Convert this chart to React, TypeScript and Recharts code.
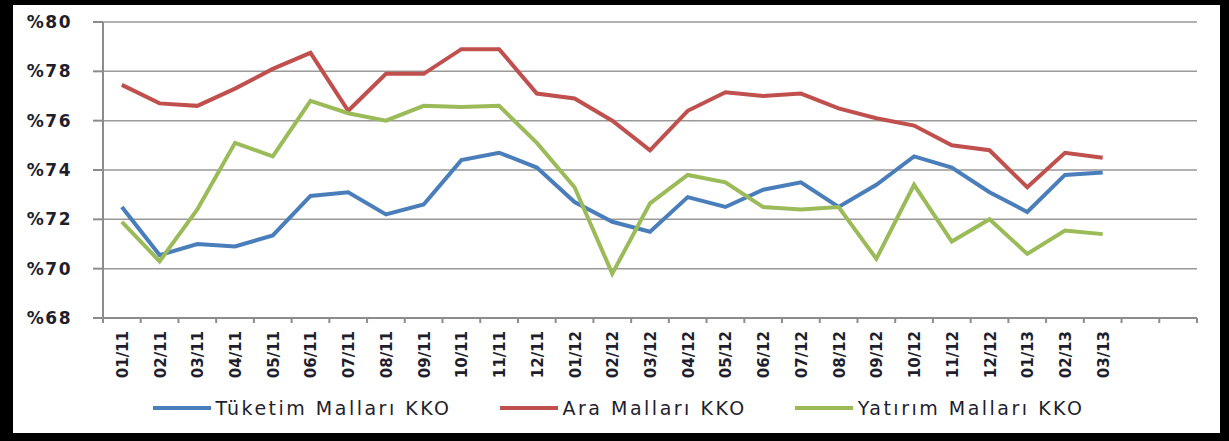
import { LineChart, Line, XAxis, YAxis, CartesianGrid, Legend } from 'recharts'

// months on the x axis, plus two empty slots Excel left at the right end
const months = [
  '01/11', '02/11', '03/11', '04/11', '05/11', '06/11', '07/11', '08/11', '09/11', '10/11', '11/11', '12/11',
  '01/12', '02/12', '03/12', '04/12', '05/12', '06/12', '07/12', '08/12', '09/12', '10/12', '11/12', '12/12',
  '01/13', '02/13', '03/13',
]
const emptySlots = ['', '']

const tuketim = [
  72.5, 70.55, 71.0, 70.9, 71.35, 72.95, 73.1, 72.2, 72.6, 74.4, 74.7, 74.1,
  72.7, 71.9, 71.5, 72.9, 72.5, 73.2, 73.5, 72.5, 73.4, 74.55, 74.1, 73.1,
  72.3, 73.8, 73.9,
]
const ara = [
  77.45, 76.7, 76.6, 77.3, 78.1, 78.75, 76.4, 77.9, 77.9, 78.9, 78.9, 77.1,
  76.9, 76.0, 74.8, 76.4, 77.15, 77.0, 77.1, 76.5, 76.1, 75.8, 75.0, 74.8,
  73.3, 74.7, 74.5,
]
const yatirim = [
  71.9, 70.3, 72.4, 75.1, 74.55, 76.8, 76.3, 76.0, 76.6, 76.55, 76.6, 75.1,
  73.3, 69.8, 72.65, 73.8, 73.5, 72.5, 72.4, 72.5, 70.4, 73.4, 71.1, 72.0,
  70.6, 71.55, 71.4,
]

const yTicks = [68, 70, 72, 74, 76, 78, 80]

const series = [
  { key: 'tuketim', name: 'Tüketim Malları KKO', color: '#4A7EBB' },
  { key: 'ara', name: 'Ara Malları KKO', color: '#C0504D' },
  { key: 'yatirim', name: 'Yatırım Malları KKO', color: '#9BBB59' },
]

const labels = [...months, ...emptySlots]
const data = labels.map((month, i) => ({
  month,
  tuketim: tuketim[i] ?? null,
  ara: ara[i] ?? null,
  yatirim: yatirim[i] ?? null,
}))

const W = 1207
const H = 428
const MARGIN = { top: 17, right: 23, left: 0, bottom: 13 }
const Y_WIDTH = 90
const PLOT_W = W - MARGIN.left - MARGIN.right - Y_WIDTH
const SLOT = PLOT_W / data.length
const AXIS_GREY = '#8c8c8c'
const TEXT = '#1e1e2c'
const FONT = '"DejaVu Sans", Verdana, sans-serif'

const XTick = ({ x, y, payload, index }: any) => {
  const last = index === data.length - 1
  return (
    <g>
      <line x1={x - SLOT / 2} x2={x - SLOT / 2} y1={y} y2={y + 5} stroke={AXIS_GREY} strokeWidth={2} />
      {last && <line x1={x + SLOT / 2} x2={x + SLOT / 2} y1={y} y2={y + 5} stroke={AXIS_GREY} strokeWidth={2} />}
      <g transform={`translate(${x},${y})`}>
        <text
          transform="rotate(-90)"
          x={-13}
          y={0}
          dy={6}
          textAnchor="end"
          fill={TEXT}
          fontSize={15}
          fontWeight="bold"
          fontFamily={FONT}
        >
          {payload.value}
        </text>
      </g>
    </g>
  )
}

const LegendContent = () => (
  <div
    style={{
      height: 24,
      display: 'flex',
      justifyContent: 'center',
      alignItems: 'center',
      gap: 48,
      paddingLeft: 4,
      fontFamily: FONT,
      fontSize: 19,
      letterSpacing: 2.5,
      color: TEXT,
    }}
  >
    {series.map((s) => (
      <div key={s.key} style={{ display: 'flex', alignItems: 'center' }}>
        <div style={{ width: 58, height: 4, background: s.color, marginRight: 5 }} />
        <span>{s.name}</span>
      </div>
    ))}
  </div>
)

export default function App() {
  return (
    <div style={{ width: 1229, height: 441, background: '#000', position: 'relative' }}>
      <style>{'body{margin:0}'}</style>
      <div style={{ position: 'absolute', left: 13, top: 5, width: W, height: H, background: '#fff' }}>
        <LineChart width={W} height={H} data={data} margin={MARGIN}>
          <CartesianGrid vertical={false} stroke="#999" strokeWidth={1.5} />
          <XAxis
            dataKey="month"
            interval={0}
            tick={<XTick />}
            tickLine={false}
            tickSize={0}
            tickMargin={0}
            height={78}
            padding={{ left: SLOT / 2, right: SLOT / 2 }}
            axisLine={{ stroke: AXIS_GREY, strokeWidth: 2 }}
          />
          <YAxis
            domain={[68, 80]}
            ticks={yTicks}
            width={Y_WIDTH}
            tickFormatter={(v) => `%${v}`}
            tickSize={10}
            tickMargin={21}
            tickLine={{ stroke: AXIS_GREY, strokeWidth: 2 }}
            axisLine={{ stroke: AXIS_GREY, strokeWidth: 2 }}
            tick={{ fill: TEXT, fontSize: 17, fontWeight: 'bold', fontFamily: FONT, letterSpacing: 1.5 }}
          />
          <Legend
            verticalAlign="bottom"
            content={<LegendContent />}
            wrapperStyle={{ left: 0, width: W }}
          />
          {series.map((s) => (
            <Line
              key={s.key}
              type="linear"
              dataKey={s.key}
              name={s.name}
              stroke={s.color}
              strokeWidth={4}
              dot={false}
              activeDot={false}
              isAnimationActive={false}
            />
          ))}
        </LineChart>
      </div>
    </div>
  )
}
